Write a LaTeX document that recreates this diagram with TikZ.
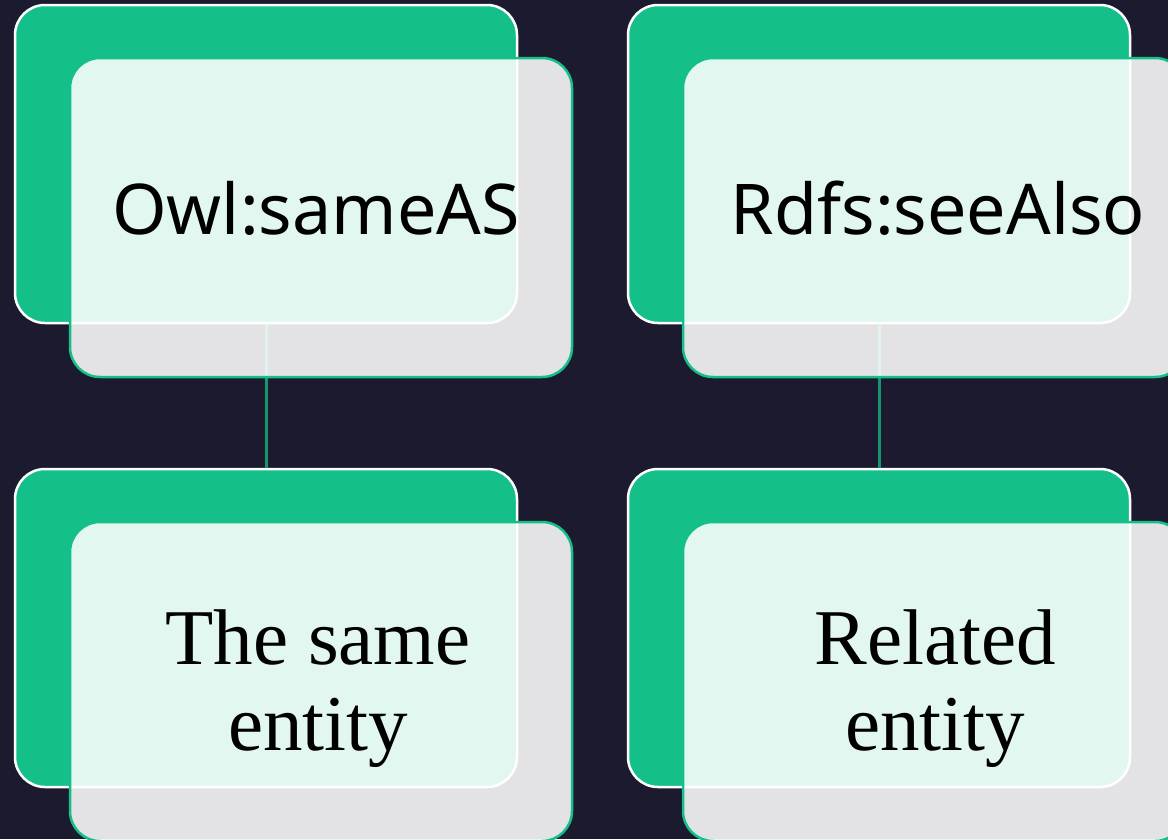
\documentclass[tikz,border=0pt]{standalone}
\usepackage{fontspec}
\setmainfont{Liberation Serif}
\setsansfont{Noto Sans}
\definecolor{navy}{RGB}{28,26,46}
\definecolor{mint}{RGB}{21,191,138}
\definecolor{stem}{RGB}{22,150,112}

\begin{document}
\begin{tikzpicture}[x=1pt,y=-1pt,
  backcard/.style={draw=white,line width=2.5pt,fill=mint,rounded corners=30pt,
    minimum width=502pt,minimum height=318pt,inner sep=0pt},
  frontcard/.style={draw=mint,line width=2.5pt,fill=white,fill opacity=0.88,
    rounded corners=30pt,minimum width=502pt,minimum height=319pt,inner sep=0pt},
  stemline/.style={draw=stem,line width=3pt},
  termtext/.style={font=\sffamily\fontsize{70}{85}\selectfont,text=black,inner sep=0pt},
  meaningtext/.style={font=\rmfamily\fontsize{79}{86}\selectfont,align=center,
    text=black,inner sep=0pt}]
\useasboundingbox (0,0) rectangle (1168,839);
\fill [navy] (0,0) rectangle (1168,839);
\clip (0,0) rectangle (1168,839);
% back cards
\node [backcard] (owl) at (266,164) {};
\node [backcard] (same) at (266,628) {};
\node [backcard] (rdfs) at (879,164) {};
\node [backcard] (rel) at (879,628) {};
% stems
\draw [stemline] (owl.south) -- (same.north);
\draw [stemline] (rdfs.south) -- (rel.north);
% front cards
\node [frontcard] (owlfront) at (321,217.5) {};
\node [frontcard] (samefront) at (321,681.5) {};
\node [frontcard] (rdfsfront) at (934,217.5) {};
\node [frontcard] (relfront) at (934,681.5) {};
% labels
\node [termtext,anchor=base] (owltext) at (316,234) {Owl:sameAS};
\node [termtext,anchor=base] (rdfstext) at (938,234) {Rdfs:seeAlso};
\node [meaningtext] (sametext) at (318,689) {The same\\entity};
\node [meaningtext] (reltext) at (935,689) {Related\\entity};
\end{tikzpicture}
\end{document}
